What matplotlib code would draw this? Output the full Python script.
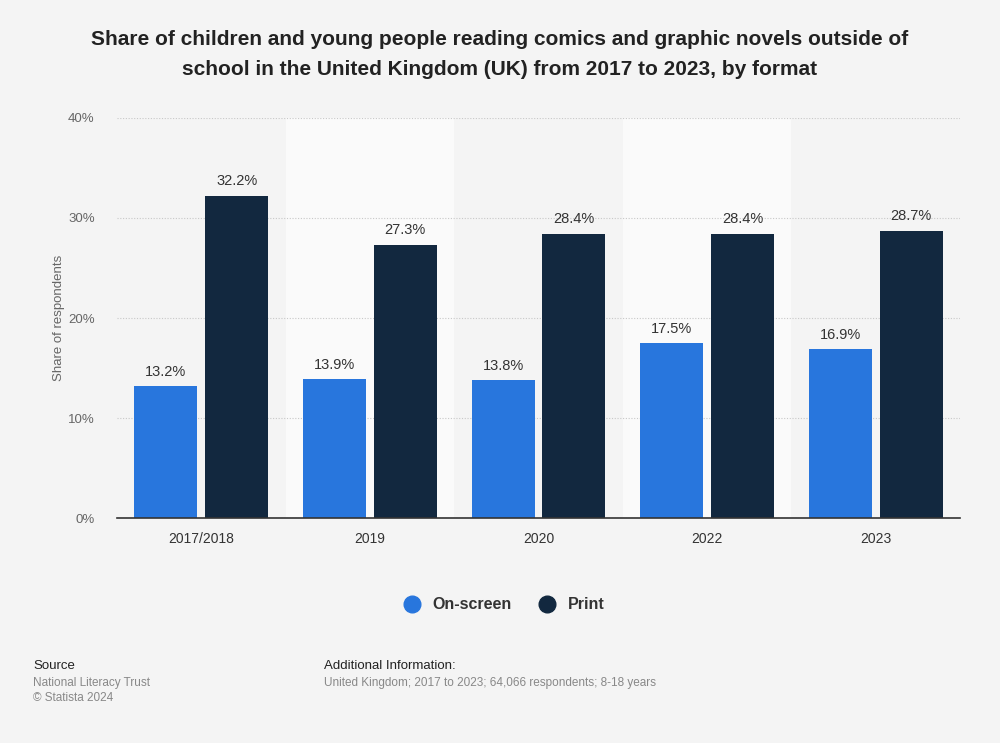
import matplotlib
matplotlib.use("Agg")
import matplotlib.pyplot as plt
import numpy as np
from matplotlib.lines import Line2D

categories = ["2017/2018", "2019", "2020", "2022", "2023"]
on_screen = [13.2, 13.9, 13.8, 17.5, 16.9]
print_vals = [32.2, 27.3, 28.4, 28.4, 28.7]
yticks = [0, 10, 20, 30, 40]
series_names = ["On-screen", "Print"]
colors = ["#2876dd", "#12283f"]

plt.rcParams['font.family'] = ['Liberation Sans', 'DejaVu Sans']

fig = plt.figure(figsize=(10, 7.43), dpi=100)
fig.patch.set_facecolor("#f4f4f4")
ax = fig.add_axes([0.117, 0.3028, 0.843, 0.5384])
ax.set_facecolor("#f4f4f4")

x = np.arange(len(categories))
for i in range(len(categories)):
    if i % 2 == 1:
        ax.axvspan(i - 0.5, i + 0.5, color="#fafafa", zorder=0, lw=0)

w = 0.374
off = 0.21
b1 = ax.bar(x - off, on_screen, w, color=colors[0], zorder=3)
b2 = ax.bar(x + off, print_vals, w, color=colors[1], zorder=3)
for bars, vals in ((b1, on_screen), (b2, print_vals)):
    for r, v in zip(bars, vals):
        ax.text(r.get_x() + r.get_width() / 2, v + 0.75, f"{v:.1f}%",
                ha="center", va="bottom", fontsize=10.5, color="#333333", zorder=4)

ax.set_xlim(-0.5, len(categories) - 0.5)
ax.set_ylim(0, 40)
ax.set_yticks(yticks)
ax.set_yticklabels([f"{t}%" for t in yticks])
ax.set_xticks(x)
ax.set_xticklabels(categories)
ax.tick_params(axis="y", length=0, labelsize=9.5, labelcolor="#666666", pad=16)
ax.tick_params(axis="x", length=0, labelsize=10, labelcolor="#333333", pad=10)
ax.grid(axis="y", color="#c8c8c8", linestyle=(0, (1, 1.5)), linewidth=0.8, zorder=1)
for s in ["top", "right", "left"]:
    ax.spines[s].set_visible(False)
ax.spines["bottom"].set_color("#333333")
ax.spines["bottom"].set_linewidth(1.2)
ax.spines["bottom"].set_zorder(5)
ax.set_ylabel("Share of respondents", fontsize=9.5, color="#666666", labelpad=2)

fig.text(0.5, 0.927, "Share of children and young people reading comics and graphic novels outside of\n"
         "school in the United Kingdom (UK) from 2017 to 2023, by format",
         ha="center", va="center", fontsize=15, fontweight="bold", color="#222222",
         linespacing=1.75)

handles = [Line2D([0], [0], marker="o", color="none", markerfacecolor=c, markeredgecolor=c,
                  markersize=12) for c in colors]
leg = fig.legend(handles, series_names, loc="center", bbox_to_anchor=(0.5, 0.186), ncol=2,
                 frameon=False, handletextpad=0.3, columnspacing=1.2,
                 prop={"size": 11.5, "weight": "bold"})
for t in leg.get_texts():
    t.set_color("#333333")

fig.text(0.033, 0.104, "Source", fontsize=9.5, color="#222222", va="center")
fig.text(0.033, 0.081, "National Literacy Trust", fontsize=8.5, color="#888888", va="center")
fig.text(0.033, 0.060, "© Statista 2024", fontsize=8.5, color="#888888", va="center")
fig.text(0.324, 0.104, "Additional Information:", fontsize=9.5, color="#222222", va="center")
fig.text(0.324, 0.081, "United Kingdom; 2017 to 2023; 64,066 respondents; 8-18 years",
         fontsize=8.5, color="#888888", va="center")

fig.savefig("out.png", dpi=100, facecolor=fig.get_facecolor())
